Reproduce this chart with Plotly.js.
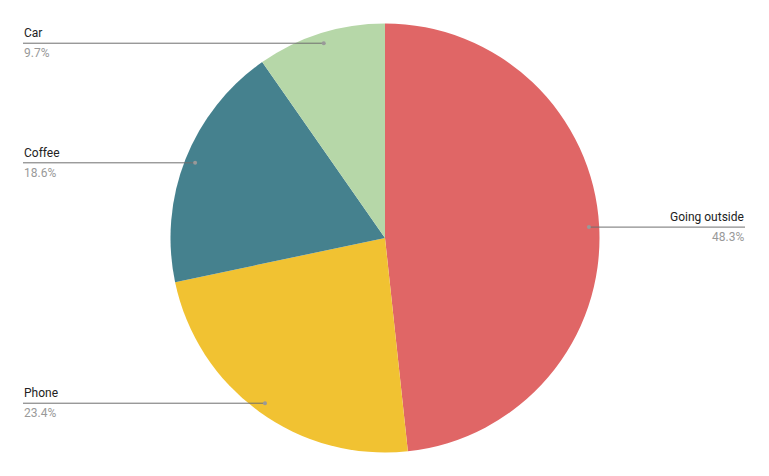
<!DOCTYPE html>
<html>
<head>
<meta charset="utf-8">
<script src="https://cdn.plot.ly/plotly-3.0.1.min.js"></script>
<style>html,body{margin:0;padding:0;background:#fff;}#chart{width:769px;height:476px;}</style>
</head>
<body>
<div id="chart"></div>
<script>
const categories = ["Going outside", "Phone", "Coffee", "Car"];
const values = [48.3, 23.4, 18.6, 9.7];
const colors = ["#E06666", "#F1C232", "#45818E", "#B6D7A8"];

const W = 769, H = 476;
const cx = 385, cy = 238, R = 214.5;
const leftX = 23, rightX = 745;

const total = values.reduce((a, b) => a + b, 0);
const shapes = [];
const annotations = [];
let cum = 0;
values.forEach((v, i) => {
  const mid = (cum + v / 2) / total * 2 * Math.PI;
  cum += v;
  const px = cx + Math.sin(mid) * R * 0.952;
  const py = cy - Math.cos(mid) * R * 0.952;
  const right = Math.sin(mid) > 0;
  const endX = right ? rightX : leftX;
  const fx = x => x / W, fy = y => 1 - y / H;
  shapes.push({type: "line", xref: "paper", yref: "paper",
    x0: fx(px), y0: fy(py), x1: fx(endX), y1: fy(py),
    line: {color: "#6f6f6f", width: 1}});
  shapes.push({type: "circle", xref: "paper", yref: "paper",
    x0: fx(px - 2), y0: fy(py - 2), x1: fx(px + 2), y1: fy(py + 2),
    fillcolor: "#999999", line: {width: 0}});
  const pct = (v / total * 100).toFixed(1) + "%";
  annotations.push({xref: "paper", yref: "paper", x: fx(endX), y: fy(py - 2),
    xanchor: right ? "right" : "left", yanchor: "bottom", showarrow: false,
    text: categories[i], font: {family: "Roboto, Arial, sans-serif", size: 12, color: "#222222"}, borderpad: 0});
  annotations.push({xref: "paper", yref: "paper", x: fx(endX), y: fy(py + 2),
    xanchor: right ? "right" : "left", yanchor: "top", showarrow: false,
    text: pct, font: {family: "Roboto, Arial, sans-serif", size: 12, color: "#999999"}, borderpad: 0});
});

const trace = {
  type: "pie",
  labels: categories,
  values: values,
  marker: {colors: colors, line: {width: 0}},
  sort: false,
  direction: "clockwise",
  rotation: 0,
  textinfo: "none",
  hoverinfo: "label+percent",
  domain: {x: [(cx - R) / W, (cx + R) / W], y: [1 - (cy + R) / H, 1 - (cy - R) / H]}
};

Plotly.newPlot("chart", [trace], {
  width: W, height: H,
  margin: {l: 0, r: 0, t: 0, b: 0},
  showlegend: false,
  paper_bgcolor: "#ffffff",
  shapes: shapes,
  annotations: annotations
}, {displayModeBar: false, staticPlot: true});
</script>
</body>
</html>
